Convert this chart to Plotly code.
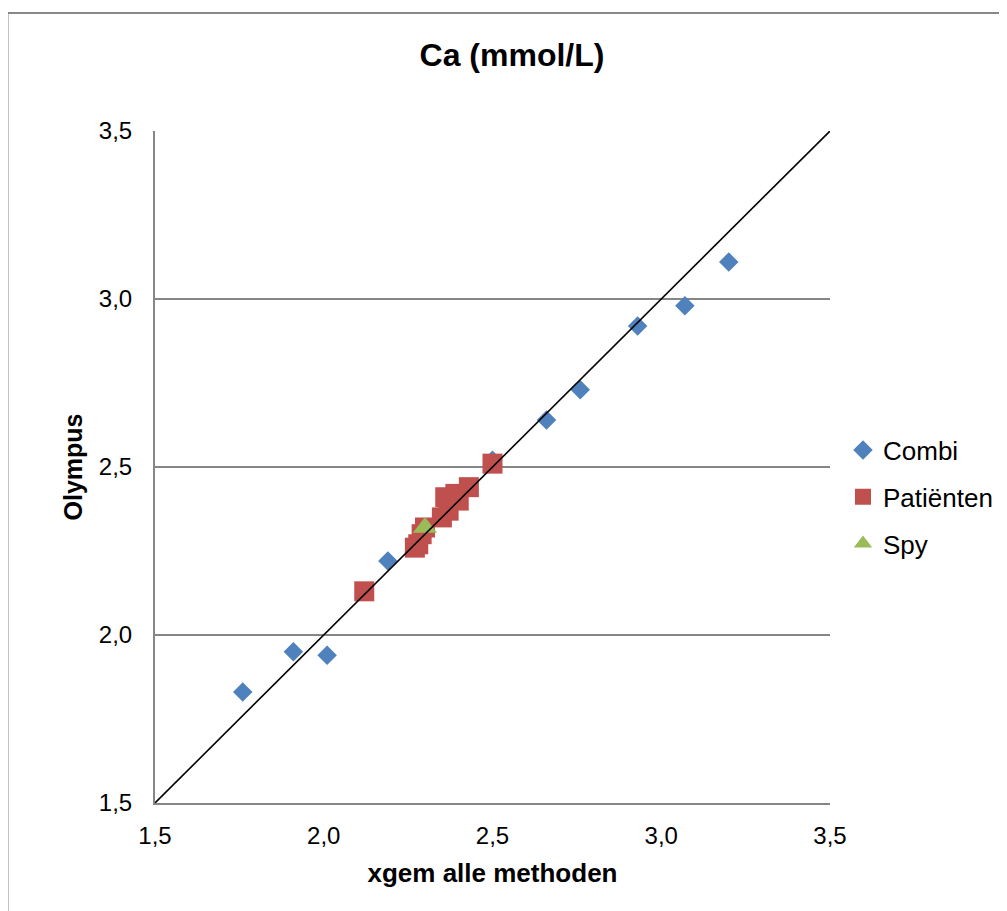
import plotly.graph_objects as go

# ---- data ----
combi_x = [1.76, 1.91, 2.01, 2.19, 2.50, 2.66, 2.76, 2.93, 3.07, 3.20]
combi_y = [1.83, 1.95, 1.94, 2.22, 2.52, 2.64, 2.73, 2.92, 2.98, 3.11]

pat_x = [2.12, 2.27, 2.28, 2.29, 2.30, 2.35, 2.37, 2.36, 2.40, 2.39, 2.43, 2.50]
pat_y = [2.13, 2.26, 2.27, 2.30, 2.32, 2.35, 2.37, 2.41, 2.40, 2.42, 2.44, 2.51]

spy_x = [2.30]
spy_y = [2.32]

axis_range = [1.5, 3.5]
tick_vals = [1.5, 2.0, 2.5, 3.0, 3.5]
tick_text = ["1,5", "2,0", "2,5", "3,0", "3,5"]

title_text = "Ca (mmol/L)"
x_title = "xgem alle methoden"
y_title = "Olympus"

FONT = "Liberation Sans, Arial, sans-serif"
GRID = "#868686"

fig = go.Figure()
fig.add_trace(go.Scatter(x=combi_x, y=combi_y, mode="markers", name="Combi",
                         legendgroup="a",
                         marker=dict(symbol="diamond", size=15, color="#4F81BD")))
fig.add_trace(go.Scatter(x=pat_x, y=pat_y, mode="markers", name="Patiënten",
                         legendgroup="b",
                         marker=dict(symbol="square", size=20, color="#C0504D")))
fig.add_trace(go.Scatter(x=spy_x, y=spy_y, mode="markers", name="Spy",
                         legendgroup="c",
                         marker=dict(symbol="triangle-up", size=21, color="#9BBB59")))
fig.add_trace(go.Scatter(x=axis_range, y=axis_range, mode="lines", showlegend=False,
                         hoverinfo="skip",
                         line=dict(color="black", width=1.6)))

# page body has an 8px margin; figure placed at (8,8)
OFF = 8
W, H = 1007 - OFF, 911 - OFF
L, R, T, B = 155 - OFF, 177, 131 - OFF, 108
pw, ph = W - L - R, H - T - B

def px2paper_x(px):
    return (px - OFF - L) / pw

def px2paper_y(py):
    return (H - B - (py - OFF)) / ph

fig.add_shape(type="rect", xref="paper", yref="paper",
              x0=px2paper_x(7.5), x1=px2paper_x(1030),
              y0=px2paper_y(930), y1=px2paper_y(13),
              line=dict(color="#878787", width=2), layer="below")

fig.update_layout(
    width=W, height=H,
    margin=dict(l=L, r=R, t=T, b=B, autoexpand=False),
    paper_bgcolor="white", plot_bgcolor="white",
    font=dict(family=FONT, color="black", size=23),
    title=dict(text="<b>" + title_text + "</b>", x=(512 - OFF) / W, xref="container",
               y=1 - (55 - OFF) / H, yref="container", xanchor="center", yanchor="middle",
               font=dict(size=32, family=FONT, color="black")),
    xaxis=dict(range=axis_range, tickvals=tick_vals, ticktext=tick_text,
               showgrid=False, zeroline=False, showline=True, linecolor=GRID,
               linewidth=2, ticks="", ticklabelstandoff=10,
               tickfont=dict(size=24), automargin=False,
               title=dict(text="<b>" + x_title + "</b>", font=dict(size=26), standoff=16)),
    yaxis=dict(range=axis_range, tickvals=tick_vals, ticktext=tick_text,
               showgrid=True, gridcolor=GRID, gridwidth=1.6, zeroline=False,
               showline=True, linecolor=GRID, linewidth=2, ticks="",
               ticklabelstandoff=16, tickfont=dict(size=24), automargin=False,
               title=dict(text="<b>" + y_title + "</b>", font=dict(size=25), standoff=9)),
    legend=dict(x=px2paper_x(843), xanchor="left", y=px2paper_y(497), yanchor="middle",
                font=dict(size=26), tracegroupgap=10, itemwidth=30,
                bgcolor="rgba(0,0,0,0)"),
    showlegend=True,
)

fig.write_html("out.html")
